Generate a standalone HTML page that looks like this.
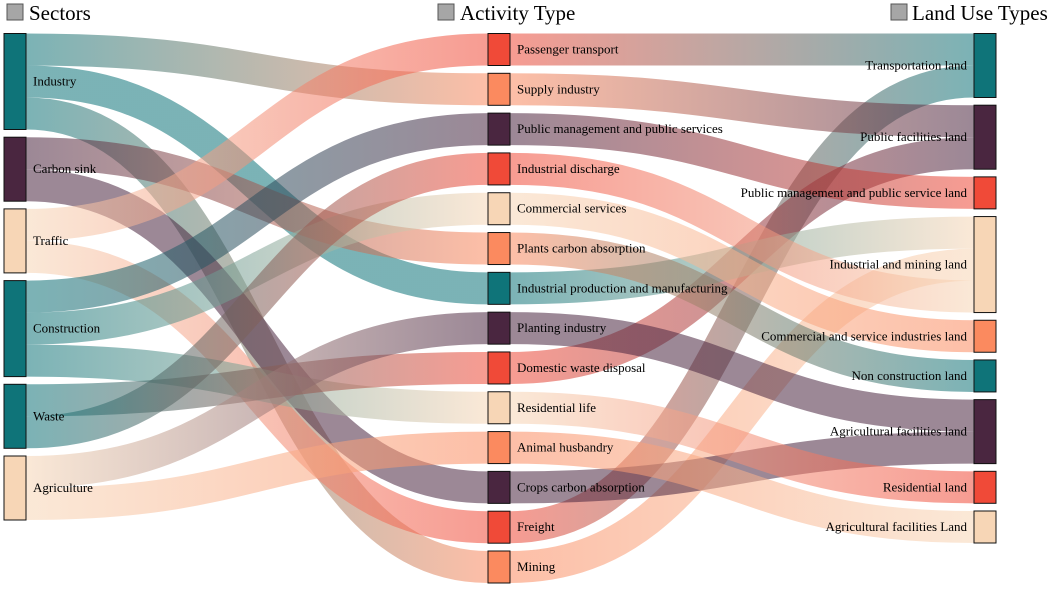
<!DOCTYPE html>
<html><head><meta charset="utf-8"><style>
html,body{margin:0;padding:0;background:#fff}
svg text{font-family:"Liberation Serif",serif}
</style></head><body>
<svg id="chart" width="1052" height="586" viewBox="0 0 1052 586" xmlns="http://www.w3.org/2000/svg">
<g>
<rect x="7" y="4" width="16" height="16" fill="#a6a6a6" stroke="#555" stroke-width="1"/>
<text x="29" y="20" font-size="21">Sectors</text>
<rect x="438" y="4" width="16" height="16" fill="#a6a6a6" stroke="#555" stroke-width="1"/>
<text x="460" y="20" font-size="21">Activity Type</text>
<rect x="891" y="4" width="16" height="16" fill="#a6a6a6" stroke="#555" stroke-width="1"/>
<text x="912" y="20" font-size="21">Land Use Types</text>
</g>
<defs id="defs"></defs>
<g id="links"></g>
<g id="nodes"></g>
</svg>
<script>
const leftNodes = ["Industry","Carbon sink","Traffic","Construction","Waste","Agriculture"];
const midNodes = ["Passenger transport","Supply industry","Public management and public services","Industrial discharge","Commercial services","Plants carbon absorption","Industrial production and manufacturing","Planting industry","Domestic waste disposal","Residential life","Animal husbandry","Crops carbon absorption","Freight","Mining"];
const rightNodes = ["Transportation land","Public facilities land","Public management and public service land","Industrial and mining land","Commercial and service industries land","Non construction land","Agricultural facilities land","Residential land","Agricultural facilities Land"];
const leftColors = ["#0f7479","#4a2640","#f7d6b6","#0f7479","#0f7479","#f7d6b6"];
const midColors = ["#f04a38","#fb8a5f","#4a2640","#f04a38","#f7d6b6","#fb8a5f","#0f7479","#4a2640","#f04a38","#f7d6b6","#fb8a5f","#4a2640","#f04a38","#fb8a5f"];
const rightColors = ["#0f7479","#4a2640","#f04a38","#f7d6b6","#fb8a5f","#0f7479","#4a2640","#f04a38","#f7d6b6"];
// flows: [source, target, value] — band order within a node follows array order
const flowsLM = [
 ["Industry","Supply industry",1],["Industry","Industrial production and manufacturing",1],["Industry","Mining",1],
 ["Carbon sink","Plants carbon absorption",1],["Carbon sink","Crops carbon absorption",1],
 ["Traffic","Passenger transport",1],["Traffic","Freight",1],
 ["Construction","Public management and public services",1],["Construction","Commercial services",1],["Construction","Residential life",1],
 ["Waste","Domestic waste disposal",1],["Waste","Industrial discharge",1],
 ["Agriculture","Planting industry",1],["Agriculture","Animal husbandry",1]
];
const flowsMR = [
 ["Passenger transport","Transportation land",1],["Freight","Transportation land",1],
 ["Supply industry","Public facilities land",1],["Domestic waste disposal","Public facilities land",1],
 ["Public management and public services","Public management and public service land",1],
 ["Industrial production and manufacturing","Industrial and mining land",1],["Mining","Industrial and mining land",1],["Industrial discharge","Industrial and mining land",1],
 ["Commercial services","Commercial and service industries land",1],
 ["Plants carbon absorption","Non construction land",1],
 ["Planting industry","Agricultural facilities land",1],["Crops carbon absorption","Agricultural facilities land",1],
 ["Residential life","Residential land",1],
 ["Animal husbandry","Agricultural facilities Land",1]
];
const NS="http://www.w3.org/2000/svg";
const defs=document.getElementById('defs');
const gL=document.getElementById('links'), gN=document.getElementById('nodes');
const unit=32, top0=33.5, nodeW=22;
const colX=[4,488,974];
function layout(names, colors, flowsIn, flowsOut, col, bottom){
  const vals=names.map(n=>{
    const a=flowsIn.filter(f=>f[1]===n).reduce((s,f)=>s+f[2],0);
    const b=flowsOut.filter(f=>f[0]===n).reduce((s,f)=>s+f[2],0);
    return Math.max(a,b);
  });
  const tot=vals.reduce((s,v)=>s+v,0);
  const gap=(bottom-top0-tot*unit)/(names.length-1);
  const m={}; let y=top0;
  names.forEach((n,i)=>{m[n]={y:y,h:vals[i]*unit,x:colX[col],color:colors[i],col:col,outY:y,inY:y};y+=vals[i]*unit+gap;});
  return m;
}
const L=layout(leftNodes,leftColors,[],flowsLM,0,520);
const M=layout(midNodes,midColors,flowsLM,flowsMR,1,583);
const R=layout(rightNodes,rightColors,flowsMR,[],2,543);
const all=Object.assign({},L,M,R);
let gid=0;
function drawFlows(flows){
  const fs=flows.map(f=>({s:all[f[0]],t:all[f[1]],v:f[2],name:f[0]+'-'+f[1]}));
  fs.forEach(f=>{f.sy=f.s.outY; f.s.outY+=f.v*unit; f.ty=f.t.inY; f.t.inY+=f.v*unit;});
  fs.forEach(f=>{
    const w=f.v*unit, x0=f.s.x+nodeW, x1=f.t.x, xm=(x0+x1)/2;
    const y0=f.sy+w/2, y1=f.ty+w/2;
    const id='g'+(gid++);
    const lg=document.createElementNS(NS,'linearGradient');
    lg.setAttribute('id',id);lg.setAttribute('gradientUnits','userSpaceOnUse');
    lg.setAttribute('x1',x0);lg.setAttribute('x2',x1);lg.setAttribute('y1',0);lg.setAttribute('y2',0);
    [[0,f.s.color],[1,f.t.color]].forEach(s=>{const st=document.createElementNS(NS,'stop');st.setAttribute('offset',s[0]);st.setAttribute('stop-color',s[1]);lg.appendChild(st);});
    defs.appendChild(lg);
    const p=document.createElementNS(NS,'path');
    p.setAttribute('d',`M${x0},${y0}C${xm},${y0} ${xm},${y1} ${x1},${y1}`);
    p.setAttribute('fill','none');p.setAttribute('stroke',`url(#${id})`);
    p.setAttribute('stroke-width',w);p.setAttribute('stroke-opacity',0.55);
    
    
    gL.appendChild(p);
  });
}
drawFlows(flowsLM);drawFlows(flowsMR);
Object.keys(all).forEach(n=>{
  const d=all[n];
  const r=document.createElementNS(NS,'rect');
  r.setAttribute('x',d.x);r.setAttribute('y',d.y);r.setAttribute('width',nodeW);r.setAttribute('height',d.h);
  r.setAttribute('fill',d.color);r.setAttribute('stroke','#111');r.setAttribute('stroke-width',1);
  
  
  gN.appendChild(r);
  const t=document.createElementNS(NS,'text');
  t.textContent=n;t.setAttribute('font-size',13);
  t.setAttribute('y',d.y+d.h/2+4);
  if(d.col===2){t.setAttribute('x',d.x-7);t.setAttribute('text-anchor','end');}
  else{t.setAttribute('x',d.x+nodeW+7);}
  
  
  gN.appendChild(t);
});
</script>
</body></html>
